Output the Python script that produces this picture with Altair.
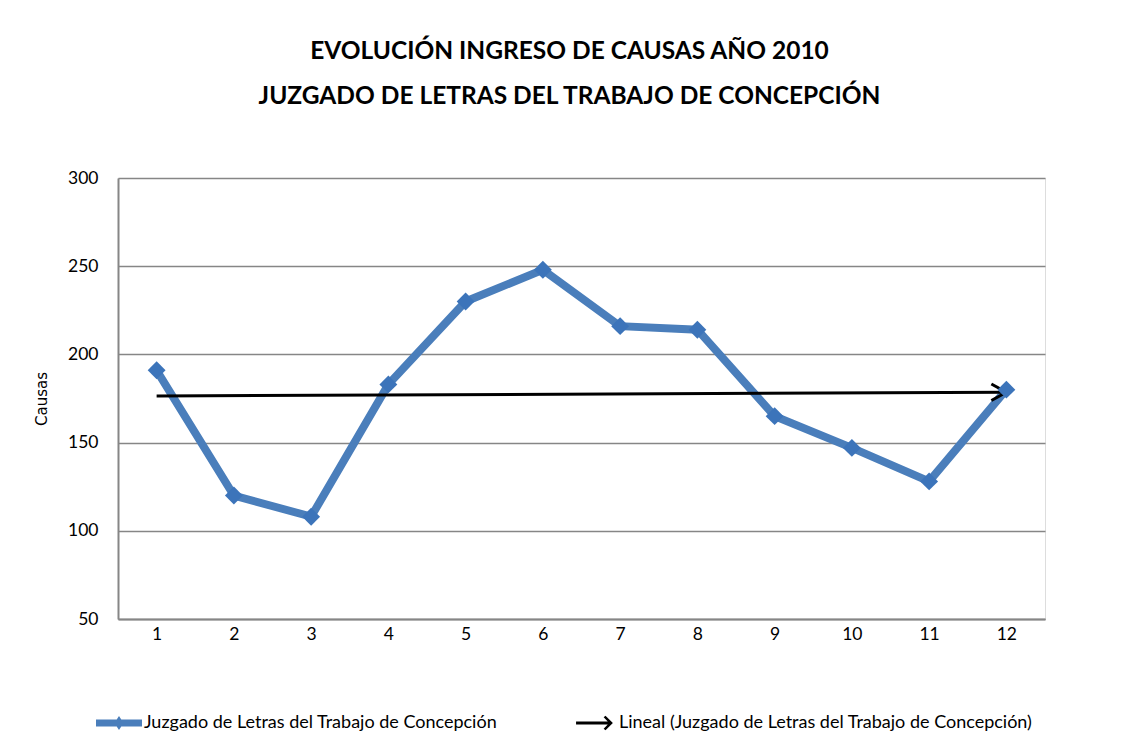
import altair as alt
import pandas as pd

months = [1, 2, 3, 4, 5, 6, 7, 8, 9, 10, 11, 12]
causas = [191, 120, 108, 183, 230, 248, 216, 214, 165, 147, 128, 180]
series_names = [
    "Juzgado de Letras del Trabajo de Concepción",
    "Lineal (Juzgado de Letras del Trabajo de Concepción)",
]
y_ticks = [50, 100, 150, 200, 250, 300]
title_lines = [
    "EVOLUCIÓN INGRESO DE CAUSAS AÑO 2010",
    "JUZGADO DE LETRAS DEL TRABAJO DE CONCEPCIÓN",
]

BLUE = "#4A7EBB"
FONT = "Lato"

df = pd.DataFrame({"mes": months, "causas": causas})
legend_df = pd.DataFrame({"serie": series_names})

x_enc = alt.X(
    "mes:Q",
    scale=alt.Scale(domain=[0.5, 12.5], nice=False, zero=False),
    axis=alt.Axis(values=months, format="d", title=None, grid=False, ticks=False,
                  labelFontSize=17.5, labelFont=FONT, labelColor="#000",
                  labelPadding=6, domainColor="#868686", domainWidth=2),
)
y_enc = alt.Y(
    "causas:Q",
    scale=alt.Scale(domain=[50, 300], nice=False, zero=False),
    axis=alt.Axis(values=y_ticks, title="Causas", grid=True, ticks=False,
                  gridColor="#868686", gridWidth=1.5,
                  labelFontSize=17.5, labelFont=FONT, labelColor="#000",
                  labelPadding=20, domainColor="#868686", domainWidth=2,
                  titleFont="DejaVu Sans", titleFontSize=15,
                  titleFontWeight="normal", titleColor="#000",
                  titlePadding=18),
)

base = alt.Chart(df)

line = base.mark_line(color=BLUE, strokeWidth=8).encode(x=x_enc, y=y_enc)
points = base.mark_point(shape="diamond", filled=True, size=320,
                         color="#3C74BA", opacity=1).encode(x="mes:Q", y="causas:Q")

trend = base.transform_regression("mes", "causas").mark_line(
    color="black", strokeWidth=3).encode(x="mes:Q", y="causas:Q")

arrow = base.transform_regression("mes", "causas").transform_filter(
    "datum.mes >= 12").mark_point(
    shape="M-1,-0.55L0,0L-1,0.55", filled=False, size=900,
    color="black", strokeWidth=3, opacity=1).encode(x="mes:Q", y="causas:Q")

legend_props = dict(
    title=None, orient="none", direction="horizontal", columns=2,
    legendX=-22, legendY=522, columnPadding=73,
    labelFont=FONT, labelFontSize=18, labelColor="#000",
    labelLimit=600, labelOffset=2,
    symbolSize=2116, symbolOpacity=1, symbolStrokeWidth=0,
)

legend_layer = alt.Chart(legend_df).mark_point(filled=True, opacity=0).encode(
    color=alt.Color(
        "serie:N",
        scale=alt.Scale(domain=series_names, range=[BLUE, "black"]),
        legend=alt.Legend(**legend_props),
    ),
    shape=alt.Shape(
        "serie:N",
        scale=alt.Scale(
            domain=series_names,
            range=[
                "M-1,-0.15L1,-0.15L1,0.15L-1,0.15Z M0,-0.3L0.2,0L0,0.3L-0.2,0Z",
                "M-0.78,-0.06L0.7,-0.06L0.7,0.06L-0.78,0.06Z M0.5,-0.32L0.82,0L0.5,0.32L0.42,0.25L0.66,0L0.42,-0.25Z",
            ],
        ),
        legend=alt.Legend(**legend_props),
    ),
)

chart = alt.layer(line, trend, arrow, points, legend_layer).properties(
    width=927,
    height=441,
    padding={"left": 110, "top": 170, "right": 70, "bottom": 126},
    autosize=alt.AutoSizeParams(type="none"),
    title=alt.Title(
        title_lines, font=FONT, fontSize=24.5, fontWeight="bold", color="#000",
        anchor="middle", dx=-12, offset=60, lineHeight=45,
    ),
).configure_view(stroke=None).configure(background="white")

chart.save("out.html", embed_options={"renderer": "svg", "actions": False})
